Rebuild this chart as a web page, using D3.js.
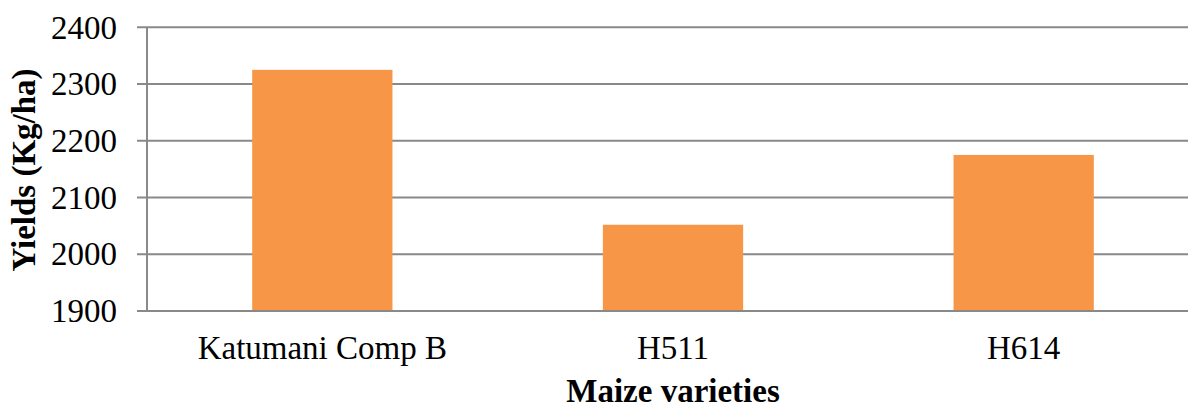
<!DOCTYPE html>
<html>
<head>
<meta charset="utf-8">
<script src="https://cdn.jsdelivr.net/npm/d3@7"></script>
<style>
  body { margin: 0; background: #fff; }
  svg text { font-family: "Liberation Serif", "Times New Roman", serif; fill: #000; }
</style>
</head>
<body>
<div id="chart"></div>
<script>
// chart data
const varieties = ["Katumani Comp B", "H511", "H614"];
const yields = [2325, 2052, 2175];
const yTicks = [1900, 2000, 2100, 2200, 2300, 2400];

const width = 1188, height = 411;
const plotLeft = 147, plotRight = 1199, plotTop = 27.3, plotBottom = 311;
const gridColor = "#898989";

const svg = d3.select("#chart").append("svg")
    .attr("width", width)
    .attr("height", height);

const x = d3.scaleBand()
    .domain(varieties)
    .range([plotLeft, plotRight])
    .paddingInner(0.6)
    .paddingOuter(0.3);

const y = d3.scaleLinear()
    .domain([1900, 2400])
    .range([plotBottom, plotTop]);

// gridlines
svg.append("g")
    .selectAll("line")
    .data(yTicks)
    .join("line")
    .attr("x1", plotLeft - 10)
    .attr("x2", plotRight)
    .attr("y1", d => y(d))
    .attr("y2", d => y(d))
    .attr("stroke", gridColor)
    .attr("stroke-width", 2);

// bars
svg.append("g")
    .selectAll("rect")
    .data(yields)
    .join("rect")
    .attr("x", (d, i) => x(varieties[i]))
    .attr("width", x.bandwidth())
    .attr("y", d => y(d))
    .attr("height", d => y(1900) - y(d))
    .attr("fill", "#F79646");

// baseline over bars
svg.append("line")
    .attr("x1", plotLeft - 10).attr("x2", plotRight)
    .attr("y1", y(1900)).attr("y2", y(1900))
    .attr("stroke", gridColor).attr("stroke-width", 2);

// y axis line
svg.append("line")
    .attr("x1", plotLeft).attr("x2", plotLeft)
    .attr("y1", plotTop).attr("y2", plotBottom)
    .attr("stroke", gridColor).attr("stroke-width", 2);

// y tick labels
svg.append("g")
    .selectAll("text")
    .data(yTicks)
    .join("text")
    .attr("x", 117)
    .attr("y", d => y(d))
    .attr("dy", "0.34em")
    .attr("text-anchor", "end")
    .style("font-size", "33px")
    .text(d => d);

// category labels
svg.append("g")
    .selectAll("text")
    .data(varieties)
    .join("text")
    .attr("x", d => x(d) + x.bandwidth() / 2)
    .attr("y", 359)
    .attr("text-anchor", "middle")
    .style("font-size", "33px")
    .text(d => d);

// axis titles
svg.append("text")
    .attr("x", x(varieties[1]) + x.bandwidth() / 2)
    .attr("y", 402)
    .attr("text-anchor", "middle")
    .style("font-size", "33px")
    .style("font-weight", "bold")
    .text("Maize varieties");

svg.append("text")
    .attr("transform", "translate(35,170) rotate(-90)")
    .attr("text-anchor", "middle")
    .style("font-size", "33px")
    .style("font-weight", "bold")
    .text("Yields (Kg/ha)");
</script>
</body>
</html>
